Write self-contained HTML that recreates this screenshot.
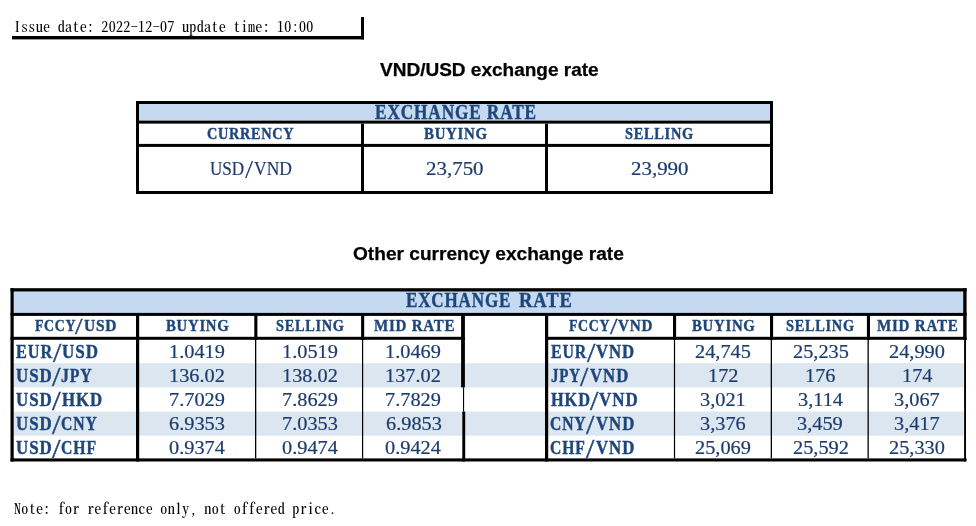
<!DOCTYPE html>
<html lang="en">
<head>
<meta charset="utf-8">
<title>Exchange rate</title>
<style>
html,body{margin:0;padding:0;background:#fff;}
body{width:976px;height:526px;position:relative;overflow:hidden;}
svg{position:absolute;left:0;top:0;}
.g{position:absolute;left:0;top:0;width:0;height:0;white-space:pre;}
.t{position:absolute;display:block;line-height:30px;white-space:nowrap;color:#1F467A;transform-origin:0 50%;}
.c1{font-family:'Liberation Sans', sans-serif;font-size:18.3px;font-weight:bold;color:#000;-webkit-text-stroke:0.25px currentColor;}
.c2{font-family:'Liberation Serif', serif;font-size:20px;font-weight:bold;letter-spacing:1px;-webkit-text-stroke:0.4px currentColor;}
.c3{font-family:'Liberation Serif', serif;font-size:16.6px;font-weight:bold;letter-spacing:0.8px;-webkit-text-stroke:0.4px currentColor;}
.c4{font-family:'Liberation Serif', serif;font-size:18.6px;color:#1B3C6C;-webkit-text-stroke:0.2px currentColor;}
.c5{font-family:'Liberation Serif', serif;font-size:18.6px;color:#1B3C6C;}
.c6{font-family:'Liberation Serif', serif;font-size:20.3px;font-weight:bold;letter-spacing:1px;-webkit-text-stroke:0.4px currentColor;}
.c7{font-family:'Liberation Serif', serif;font-size:16.3px;font-weight:bold;letter-spacing:0.8px;-webkit-text-stroke:0.4px currentColor;}
.c8{font-family:'Liberation Serif', serif;font-size:16.3px;-webkit-text-stroke:0.25px currentColor;}
.c9{font-family:'Liberation Serif', serif;font-size:17.8px;font-weight:bold;letter-spacing:1px;-webkit-text-stroke:0.4px currentColor;}
.c10{font-family:'Liberation Serif', serif;font-size:17.8px;-webkit-text-stroke:0.25px currentColor;}
.c11{font-family:'Liberation Serif', serif;font-size:19.2px;color:#1B3C6C;-webkit-text-stroke:0.2px currentColor;}
.m{position:absolute;white-space:pre;line-height:30px;color:#000;font-family:"Noto Serif CJK SC",serif;font-feature-settings:"hwid";font-size:14px;font-weight:500;letter-spacing:0.333px;}
</style>
</head>
<body>
<svg width="976" height="526" viewBox="0 0 976 526">
<rect x="12" y="36" width="352" height="3.4" fill="#000"/>
<rect x="361" y="17" width="3" height="22.4" fill="#000"/>
<rect x="136" y="101" width="637" height="93" fill="#000"/>
<rect x="139" y="104" width="631" height="87" fill="#fff"/>
<rect x="139" y="104" width="631" height="16.6" fill="#C5D9F1"/>
<rect x="139" y="120.6" width="631" height="3" fill="#000"/>
<rect x="139" y="143.9" width="631" height="3" fill="#000"/>
<rect x="361" y="123.6" width="3" height="67.4" fill="#000"/>
<rect x="545" y="123.6" width="3" height="67.4" fill="#000"/>
<rect x="13.5" y="291.4" width="949.8" height="21.6" fill="#C5D9F1"/>
<rect x="13.5" y="363.2" width="950.3" height="24.2" fill="#DCE6F1"/>
<rect x="13.5" y="411.6" width="950.3" height="24.1" fill="#DCE6F1"/>
<rect x="10.5" y="288.2" width="956.1" height="3.3" fill="#000"/>
<rect x="10.5" y="312.9" width="956.1" height="3" fill="#000"/>
<rect x="10.5" y="336.8" width="454.4" height="3" fill="#000"/>
<rect x="545" y="336.8" width="421.6" height="3" fill="#000"/>
<rect x="10.5" y="458.4" width="956.1" height="3.1" fill="#000"/>
<rect x="10.5" y="288.2" width="3.2" height="173.3" fill="#000"/>
<rect x="136" y="313" width="3.2" height="148.5" fill="#000"/>
<rect x="545" y="313" width="3.2" height="148.5" fill="#000"/>
<rect x="963.2" y="288.2" width="3.4" height="51.8" fill="#000"/>
<rect x="964.1" y="340" width="1.9" height="121.5" fill="#000"/>
<rect x="254.3" y="313" width="3.1" height="27" fill="#000"/>
<rect x="255" y="340" width="1.3" height="118.4" fill="#000"/>
<rect x="361.1" y="313" width="3.1" height="27" fill="#000"/>
<rect x="362" y="340" width="1.2" height="118.4" fill="#000"/>
<rect x="673" y="313" width="3.1" height="27" fill="#000"/>
<rect x="673.9" y="340" width="1.2" height="118.4" fill="#000"/>
<rect x="770" y="313" width="3.1" height="27" fill="#000"/>
<rect x="770.7" y="340" width="1.3" height="118.4" fill="#000"/>
<rect x="866.9" y="313" width="3.1" height="27" fill="#000"/>
<rect x="867.5" y="340" width="1.3" height="118.4" fill="#000"/>
<rect x="461.1" y="313" width="3.8" height="74.4" fill="#000"/>
<rect x="463" y="387.4" width="1.1" height="24.2" fill="#000"/>
<rect x="462.3" y="411.6" width="2.9" height="49.9" fill="#000"/>
</svg>
<div class="m" style="left:13.7px;top:11.1px;">Issue date：2022-12-07 update time：10:00</div>
<div class="t c1" style="left:379.80px;top:55.00px;transform:scaleX(1.0397);">VND/USD exchange rate</div>
<div class="t c1" style="left:353.00px;top:239.00px;transform:scaleX(1.0452);">Other currency exchange rate</div>
<div class="t c2" style="left:374.93px;top:97.00px;transform:scaleX(0.8631);">EXCHANGE RATE</div>
<div class="t c3" style="left:206.83px;top:119.00px;transform:scaleX(0.8614);">CURRENCY</div>
<div class="t c3" style="left:423.77px;top:119.00px;transform:scaleX(0.8964);">BUYING</div>
<div class="t c3" style="left:624.82px;top:119.00px;transform:scaleX(0.8682);">SELLING</div>
<div class="g"><span class="t c4" style="left:210.23px;top:154.00px;transform:scaleX(0.9180);">USD</span><span class="t c5" style="left:244.80px;top:157.00px;transform:scale(1.587,1.352);transform-origin:0 21px;">/</span><span class="t c4" style="left:253.60px;top:154.00px;transform:scaleX(0.9407);">VND</span></div>
<div class="t c4" style="left:426.45px;top:154.00px;transform:scaleX(1.1263);">23,750</div>
<div class="t c4" style="left:630.85px;top:154.00px;transform:scaleX(1.1243);">23,990</div>
<div class="g"><span class="t c6" style="left:406.43px;top:285.00px;transform:scaleX(0.8406);">EXCHANGE</span>  <span class="t c6" style="left:519.31px;top:285.00px;transform:scaleX(0.9132);">RATE</span></div>
<div class="g"><span class="t c7" style="left:34.68px;top:311.00px;transform:scaleX(0.8492);">FCCY</span><span class="t c8" style="left:74.90px;top:314.00px;transform:scale(1.658,1.406);transform-origin:0 20px;">/</span><span class="t c7" style="left:83.66px;top:311.00px;transform:scaleX(0.9524);">USD</span></div>
<div class="t c7" style="left:165.97px;top:311.00px;transform:scaleX(0.9076);">BUYING</div>
<div class="t c7" style="left:275.63px;top:311.00px;transform:scaleX(0.8793);">SELLING</div>
<div class="t c7" style="left:373.56px;top:311.00px;transform:scaleX(0.9246);">MID RATE</div>
<div class="g"><span class="t c7" style="left:569.28px;top:311.00px;transform:scaleX(0.8492);">FCCY</span><span class="t c8" style="left:609.50px;top:314.00px;transform:scale(1.658,1.406);transform-origin:0 20px;">/</span><span class="t c7" style="left:618.40px;top:311.00px;transform:scaleX(0.9326);">VND</span></div>
<div class="t c7" style="left:692.47px;top:311.00px;transform:scaleX(0.9090);">BUYING</div>
<div class="t c7" style="left:786.03px;top:311.00px;transform:scaleX(0.8819);">SELLING</div>
<div class="t c7" style="left:876.96px;top:311.00px;transform:scaleX(0.9269);">MID RATE</div>
<div class="g"><span class="t c9" style="left:15.85px;top:337.00px;transform:scaleX(0.9134);">EUR</span><span class="t c10" style="left:52.70px;top:341.00px;transform:scale(1.678,1.480);transform-origin:0 21px;">/</span><span class="t c9" style="left:62.03px;top:337.00px;transform:scaleX(0.9561);">USD</span></div>
<div class="t c11" style="left:168.84px;top:337.00px;transform:scaleX(1.0600);">1.0419</div>
<div class="t c11" style="left:281.64px;top:337.00px;transform:scaleX(1.0600);">1.0519</div>
<div class="t c11" style="left:385.14px;top:337.00px;transform:scaleX(1.0600);">1.0469</div>
<div class="g"><span class="t c9" style="left:550.85px;top:337.00px;transform:scaleX(0.8932);">EUR</span><span class="t c10" style="left:586.80px;top:341.00px;transform:scale(1.698,1.480);transform-origin:0 21px;">/</span><span class="t c9" style="left:596.40px;top:337.00px;transform:scaleX(0.9413);">VND</span></div>
<div class="t c11" style="left:695.32px;top:337.00px;transform:scaleX(1.0600);">24,745</div>
<div class="t c11" style="left:792.52px;top:337.00px;transform:scaleX(1.0600);">25,235</div>
<div class="t c11" style="left:889.42px;top:337.00px;transform:scaleX(1.0600);">24,990</div>
<div class="g"><span class="t c9" style="left:15.84px;top:361.00px;transform:scaleX(0.9506);">USD</span><span class="t c10" style="left:51.60px;top:365.00px;transform:scale(1.718,1.480);transform-origin:0 21px;">/</span><span class="t c9" style="left:60.61px;top:361.00px;transform:scaleX(0.8864);">JPY</span></div>
<div class="t c11" style="left:169.00px;top:361.00px;transform:scaleX(1.0600);">136.02</div>
<div class="t c11" style="left:281.80px;top:361.00px;transform:scaleX(1.0600);">138.02</div>
<div class="t c11" style="left:385.30px;top:361.00px;transform:scaleX(1.0600);">137.02</div>
<div class="g"><span class="t c9" style="left:551.33px;top:361.00px;transform:scaleX(0.8390);">JPY</span><span class="t c10" style="left:580.40px;top:365.00px;transform:scale(1.678,1.480);transform-origin:0 21px;">/</span><span class="t c9" style="left:590.00px;top:361.00px;transform:scaleX(0.9438);">VND</span></div>
<div class="t c11" style="left:707.72px;top:361.00px;transform:scaleX(1.0600);">172</div>
<div class="t c11" style="left:804.60px;top:361.00px;transform:scaleX(1.0600);">176</div>
<div class="t c11" style="left:901.50px;top:361.00px;transform:scaleX(1.0600);">174</div>
<div class="g"><span class="t c9" style="left:15.84px;top:385.00px;transform:scaleX(0.9506);">USD</span><span class="t c10" style="left:51.75px;top:389.00px;transform:scale(1.768,1.480);transform-origin:0 21px;">/</span><span class="t c9" style="left:61.54px;top:385.00px;transform:scaleX(0.9436);">HKD</span></div>
<div class="t c11" style="left:169.00px;top:385.00px;transform:scaleX(1.0600);">7.7029</div>
<div class="t c11" style="left:281.80px;top:385.00px;transform:scaleX(1.0600);">7.8629</div>
<div class="t c11" style="left:385.30px;top:385.00px;transform:scaleX(1.0600);">7.7829</div>
<div class="g"><span class="t c9" style="left:550.64px;top:385.00px;transform:scaleX(0.9172);">HKD</span><span class="t c10" style="left:589.70px;top:389.00px;transform:scale(1.698,1.480);transform-origin:0 21px;">/</span><span class="t c9" style="left:599.40px;top:385.00px;transform:scaleX(0.9538);">VND</span></div>
<div class="t c11" style="left:700.40px;top:385.00px;transform:scaleX(1.0600);">3,021</div>
<div class="t c11" style="left:797.66px;top:385.00px;transform:scaleX(1.0600);">3,114</div>
<div class="t c11" style="left:894.19px;top:385.00px;transform:scaleX(1.0600);">3,067</div>
<div class="g"><span class="t c9" style="left:15.84px;top:409.00px;transform:scaleX(0.9506);">USD</span><span class="t c10" style="left:51.70px;top:413.00px;transform:scale(1.738,1.480);transform-origin:0 21px;">/</span><span class="t c9" style="left:60.66px;top:409.00px;transform:scaleX(0.8835);">CNY</span></div>
<div class="t c11" style="left:169.32px;top:409.00px;transform:scaleX(1.0600);">6.9353</div>
<div class="t c11" style="left:281.80px;top:409.00px;transform:scaleX(1.0600);">7.0353</div>
<div class="t c11" style="left:385.62px;top:409.00px;transform:scaleX(1.0600);">6.9853</div>
<div class="g"><span class="t c9" style="left:550.17px;top:409.00px;transform:scaleX(0.8784);">CNY</span><span class="t c10" style="left:585.85px;top:413.00px;transform:scale(1.698,1.480);transform-origin:0 21px;">/</span><span class="t c9" style="left:595.50px;top:409.00px;transform:scaleX(0.9463);">VND</span></div>
<div class="t c11" style="left:700.09px;top:409.00px;transform:scaleX(1.0600);">3,376</div>
<div class="t c11" style="left:797.45px;top:409.00px;transform:scaleX(1.0600);">3,459</div>
<div class="t c11" style="left:894.19px;top:409.00px;transform:scaleX(1.0600);">3,417</div>
<div class="g"><span class="t c9" style="left:15.84px;top:433.00px;transform:scaleX(0.9506);">USD</span><span class="t c10" style="left:51.70px;top:437.00px;transform:scale(1.738,1.480);transform-origin:0 21px;">/</span><span class="t c9" style="left:60.66px;top:433.00px;transform:scaleX(0.8858);">CHF</span></div>
<div class="t c11" style="left:169.16px;top:433.00px;transform:scaleX(1.0600);">0.9374</div>
<div class="t c11" style="left:281.96px;top:433.00px;transform:scaleX(1.0600);">0.9474</div>
<div class="t c11" style="left:385.46px;top:433.00px;transform:scaleX(1.0600);">0.9424</div>
<div class="g"><span class="t c9" style="left:550.17px;top:433.00px;transform:scaleX(0.8806);">CHF</span><span class="t c10" style="left:585.85px;top:437.00px;transform:scale(1.698,1.480);transform-origin:0 21px;">/</span><span class="t c9" style="left:595.50px;top:433.00px;transform:scaleX(0.9463);">VND</span></div>
<div class="t c11" style="left:695.32px;top:433.00px;transform:scaleX(1.0600);">25,069</div>
<div class="t c11" style="left:792.68px;top:433.00px;transform:scaleX(1.0600);">25,592</div>
<div class="t c11" style="left:889.42px;top:433.00px;transform:scaleX(1.0600);">25,330</div>
<div class="m" style="left:14px;top:493.3px;">Note：for reference only, not offered price.</div>
</body>
</html>
